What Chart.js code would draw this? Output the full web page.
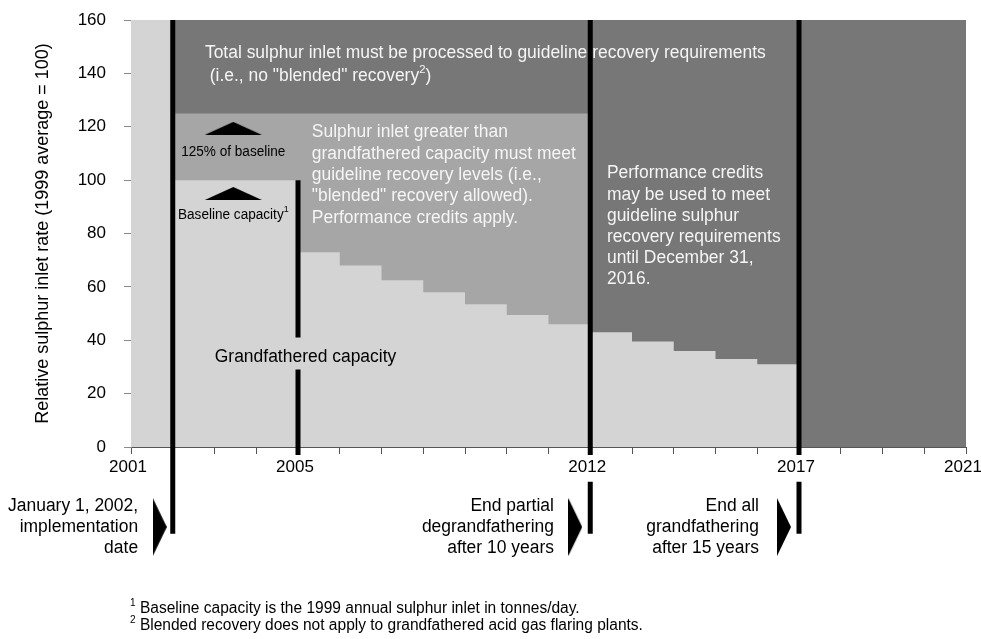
<!DOCTYPE html>
<html>
<head>
<meta charset="utf-8">
<script src="https://cdn.jsdelivr.net/npm/chart.js@4.4.0/dist/chart.umd.min.js"></script>
<style>
  html, body { margin: 0; padding: 0; background: #fff; }
</style>
</head>
<body>
<canvas id="chart" width="981" height="639"></canvas>
<script>
// axis ranges and labelled years
const xMin = 2001, xMax = 2021;
const labelledYears = [2001, 2005, 2012, 2017, 2021];
const yMax = 160;

// grandfathered capacity: value holds from capYears[i] to capYears[i+1]
const capYears = [2002, 2003, 2004, 2005, 2006, 2007, 2008, 2009, 2010, 2011, 2012, 2013, 2014, 2015, 2016, 2017];
const capValues = [100, 100, 100, 73, 68, 62.5, 58, 53.5, 49.5, 46, 43, 39.5, 36, 33, 31, 31];

// regulation periods
const implementationYear = 2002;
const partialEndYear = 2012;
const blendedLimit = 125; // 125% of baseline

// black milestone bars: year and y-ranges (null = gap in the bar)
const milestoneYears = [2002, 2005, 2012, 2017];
const milestoneSpans = [
  [160, -32.5],
  [100, 41, null, 29, -3],
  [160, -3, null, -13, -32.5],
  [160, -3, null, -13, -32.5]
];

// arrow markers
const upArrowYears = [2003.45, 2003.45];
const upArrowValues = [119.4, 95];
const rightArrowYears = [2001.69, 2011.64, 2016.64];
const rightArrowValues = [-30, -30, -30];

const FONT = '"Liberation Sans", Arial, sans-serif';
const LIGHT = '#d4d4d4', MID = '#a6a6a6', DARK = '#777777';

function triangle(w, h, dir) {
  const c = document.createElement('canvas');
  c.width = w; c.height = h;
  const g = c.getContext('2d');
  g.fillStyle = '#000';
  g.beginPath();
  if (dir === 'up') { g.moveTo(0, h); g.lineTo(w / 2, 0); g.lineTo(w, h); }
  else { g.moveTo(0, 0); g.lineTo(w, h / 2); g.lineTo(0, h); }
  g.closePath();
  g.fill();
  return c;
}

// text with ^superscript^ parts, squeezed horizontally by sx
function drawRich(ctx, str, x, y, size, align, sx) {
  const parts = str.split('^');
  let total = 0;
  parts.forEach((p, i) => {
    ctx.font = (i % 2 ? size * 0.65 : size) + 'px ' + FONT;
    total += ctx.measureText(p).width;
  });
  total *= sx;
  let cx = align === 'center' ? x - total / 2 : align === 'right' ? x - total : x;
  ctx.save();
  ctx.translate(cx, y);
  ctx.scale(sx, 1);
  ctx.textAlign = 'left';
  ctx.textBaseline = 'middle';
  let ox = 0;
  parts.forEach((p, i) => {
    const sup = i % 2 === 1;
    ctx.font = (sup ? size * 0.65 : size) + 'px ' + FONT;
    ctx.fillText(p, ox, sup ? -size * 0.35 : 0);
    ox += ctx.measureText(p).width;
  });
  ctx.restore();
}

const notes = [
  { year: 2002.77, value: 147.7, lh: 23, size: 18, color: '#f5f5f5', align: 'left',
    lines: ['Total sulphur inlet must be processed to guideline recovery requirements', ' (i.e., no "blended" recovery^2^)'] },
  { year: 2005.33, value: 117.9, lh: 21.3, size: 18, color: '#f5f5f5', align: 'left',
    lines: ['Sulphur inlet greater than', 'grandfathered capacity must meet', 'guideline recovery levels (i.e.,', '"blended" recovery allowed).', 'Performance credits apply.'] },
  { year: 2012.4, value: 102.5, lh: 21.2, size: 18, color: '#f5f5f5', align: 'left',
    lines: ['Performance credits', 'may be used to meet', 'guideline sulphur', 'recovery requirements', 'until December 31,', '2016.'] },
  { year: 2003.45, value: 110.3, lh: 16, size: 14, color: '#000', align: 'center', lines: ['125% of baseline'] },
  { year: 2003.45, value: 87, lh: 16, size: 14, color: '#000', align: 'center', lines: ['Baseline capacity^1^'] },
  { year: 2005.18, value: 33.6, lh: 20, size: 18, color: '#000', align: 'center', lines: ['Grandfathered capacity'] },
  { year: 2001.17, value: -22, lh: 21, size: 18, color: '#000', align: 'right',
    lines: ['January 1, 2002,', 'implementation', 'date'] },
  { year: 2011.13, value: -22, lh: 21, size: 18, color: '#000', align: 'right',
    lines: ['End partial', 'degrandfathering', 'after 10 years'] },
  { year: 2016.04, value: -22, lh: 21, size: 18, color: '#000', align: 'right',
    lines: ['End all', 'grandfathering', 'after 15 years'] }
];
const footnotes = ['^1^ Baseline capacity is the 1999 annual sulphur inlet in tonnes/day.',
                   '^2^ Blended recovery does not apply to grandfathered acid gas flaring plants.'];

const notesPlugin = {
  id: 'notes',
  afterDatasetsDraw(chart) {
    const ctx = chart.ctx, xs = chart.scales.x, ys = chart.scales.y;
    ctx.save();
    // right-pointing milestone arrows below the axis
    const arrow = triangle(14, 58, 'right');
    rightArrowYears.forEach((yr, i) => {
      const px = xs.getPixelForValue(yr), py = ys.getPixelForValue(rightArrowValues[i]);
      ctx.drawImage(arrow, px - 7, py - 29);
    });
    notes.forEach(n => {
      ctx.fillStyle = n.color;
      const px = xs.getPixelForValue(n.year);
      const py = ys.getPixelForValue(n.value);
      n.lines.forEach((l, i) => drawRich(ctx, l, px, py + i * n.lh, n.size, n.align, 0.97));
    });
    ctx.fillStyle = '#000';
    const fx = xs.getPixelForValue(xMin) - 1;
    const fy = ys.getPixelForValue(0) + 162;
    footnotes.forEach((l, i) => drawRich(ctx, l, fx, fy + i * 17, 16, 'left', 0.97));
    ctx.restore();
  }
};

const pts = (xsArr, ysArr) => xsArr.map((x, i) => ({ x: x, y: ysArr[i] }));
const area = (data, color, order) => ({
  data: data, backgroundColor: color, borderWidth: 0, pointRadius: 0,
  fill: 'origin', stepped: 'before', order: order
});

const datasets = [
  area(pts([xMin, xMax], [yMax, yMax]), LIGHT, 20),
  area(pts([implementationYear, xMax], [yMax, yMax]), DARK, 19),
  area(pts([implementationYear, partialEndYear], [blendedLimit, blendedLimit]), MID, 18),
  area(pts(capYears, capValues), LIGHT, 17)
];
milestoneYears.forEach((yr, i) => {
  datasets.push({
    data: milestoneSpans[i].map(v => ({ x: yr, y: v })),
    borderColor: '#000', borderWidth: 5, pointRadius: 0, fill: false,
    spanGaps: false, clip: false, order: 2, borderCapStyle: 'butt'
  });
});
datasets.push({
  type: 'scatter', data: pts(upArrowYears, upArrowValues),
  pointStyle: triangle(57, 13, 'up'), pointRadius: 10, order: 1, clip: false
});

new Chart(document.getElementById('chart').getContext('2d'), {
  type: 'line',
  data: { datasets: datasets },
  plugins: [notesPlugin],
  options: {
    responsive: false,
    animation: false,
    layout: { padding: { top: 20, right: 15, bottom: 150, left: 0 } },
    plugins: { legend: { display: false }, tooltip: { enabled: false } },
    scales: {
      x: {
        type: 'linear', min: xMin, max: xMax,
        ticks: {
          stepSize: 1, autoSkip: false, maxRotation: 0, padding: 3, labelOffset: -3, color: '#000',
          font: { size: 17, family: FONT },
          callback: v => labelledYears.includes(v) ? String(v) : ''
        },
        grid: { drawOnChartArea: false, tickLength: 7, color: '#555' },
        border: { color: '#555' },
        afterFit: s => { s.height = 42; s.paddingLeft = 0; s.paddingRight = 0; }
      },
      y: {
        min: 0, max: yMax,
        ticks: { stepSize: 20, padding: 18, color: '#000', font: { size: 17, family: FONT } },
        grid: { drawOnChartArea: false, tickLength: 7, color: '#888' },
        border: { color: '#888' },
        title: {
          display: true, text: 'Relative sulphur inlet rate (1999 average = 100)',
          color: '#000', font: { size: 18, family: FONT }, padding: { top: 32, bottom: 0 }
        },
        afterFit: s => { s.width = 131; s.paddingTop = 0; s.paddingBottom = 0; }
      }
    }
  }
});
</script>
</body>
</html>
